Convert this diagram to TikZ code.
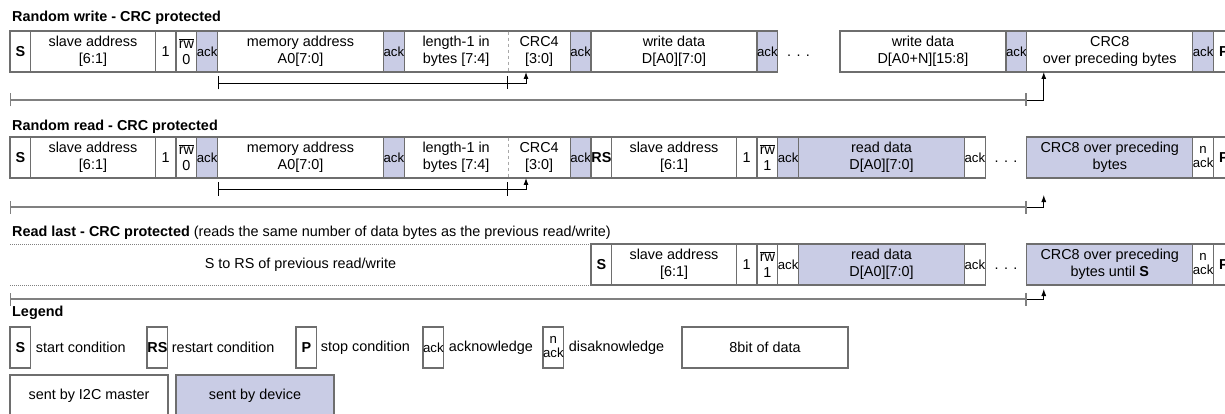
\documentclass[tikz,border=0pt]{standalone}
\usepackage{fontspec}
\setmainfont{Liberation Sans}
\usetikzlibrary{positioning, arrows.meta}

\definecolor{devfill}{RGB}{201,204,229}
\definecolor{cellline}{RGB}{110,110,110}
\newcommand\cellfont{\fontsize{14.4pt}{16.6pt}\selectfont}
\newcommand\ackfont{\fontsize{13.2pt}{14pt}\selectfont}

\begin{document}
\begin{tikzpicture}[x = 1pt, y = -1pt,
    cell/.style = {draw = cellline, line width = 1.2pt, minimum width = #1*20.75pt,
                   minimum height = 41pt, inner sep = 0pt, outer sep = 0pt,
                   align = center, font = \cellfont},
    cell/.default = 1,
    devcell/.style = {cell = #1, fill = devfill},
    devcell/.default = 1,
    gapcell/.style = {cell = #1, draw = none},
    gapcell/.default = 1,
    heading/.style = {anchor = west, inner sep = 0pt, font = \cellfont},
    note/.style = {inner sep = 0pt, font = \cellfont},
    spanline/.style = {line width = .9pt, {Bar[width=13pt]}-{Bar[width=13pt]}},
    longspan/.style = {spanline, draw = gray, line width = 1.4pt},
    crcarrow/.style = {line width = .9pt, -{Latex[length=7pt, width=5pt]}}
  ]
  \useasboundingbox (0,0) rectangle (1225,414);

  % random write
  \node[heading, font = \cellfont\bfseries] (t1) at (12,18) {Random write - CRC protected};
  % random read
  \node[heading, font = \cellfont\bfseries] (t2) at (12,127) {Random read - CRC protected};

  % both start the same way
  \foreach \r/\ty in {1/31, 2/137} {
    \node[cell, anchor = north west, font = \cellfont\bfseries] (s\r) at (10,\ty) {S};
    \node[cell = 6, right = 0pt of s\r] (sa\r) {slave address\\{}[6:1]};
    \node[cell, right = 0pt of sa\r] (one\r) {1};
    \node[cell, right = 0pt of one\r] (rw\r) {$\overline{\mbox{rw}}$\\0};
    \node[devcell, font = \ackfont, right = 0pt of rw\r] (ackA\r) {ack};
    \node[cell = 8, right = 0pt of ackA\r] (ma\r) {memory address\\A0[7:0]};
    \node[devcell, font = \ackfont, right = 0pt of ma\r] (ackB\r) {ack};
    \node[cell = 5, right = 0pt of ackB\r] (len\r) {length-1 in\\bytes [7:4]};
    \node[cell = 3, right = 0pt of len\r] (crcf\r) {CRC4\\{}[3:0]};
    \node[devcell, font = \ackfont, right = 0pt of crcf\r] (ackC\r) {ack};
    \draw[white, line width = 1.4pt] ([yshift = -.7pt]len\r.north east) -- ([yshift = .7pt]len\r.south east);
    \draw[cellline!60, dashed, line width = .8pt] ([yshift = -.7pt]len\r.north east) -- ([yshift = .7pt]len\r.south east);
    % crc4 covers memory address and length
    \draw[spanline] ([yshift = -11pt]ma\r.south west) -- ([yshift = -11pt]len\r.south east);
    \draw[crcarrow] ([yshift = -11pt]len\r.south east) -| ([xshift = 18pt]crcf\r.south west);
  }

  \node[cell = 8, right = 0pt of ackC1] (wd1) {write data\\D[A0][7:0]};
  \node[devcell, font = \ackfont, right = 0pt of wd1] (ackD1) {ack};
  \node[gapcell = 2, right = 0pt of ackD1] (dots1) {\vphantom{A}. . .};
  \node[cell = 8, right = 20.75pt of dots1] (wdn1) {write data\\D[A0+N][15:8]};
  \node[devcell, font = \ackfont, right = 0pt of wdn1] (ackE1) {ack};
  \node[cell = 8, right = 0pt of ackE1] (crce1) {CRC8\\over preceding bytes};
  \node[devcell, font = \ackfont, right = 0pt of crce1] (ackF1) {ack};
  \node[cell, font = \cellfont\bfseries, right = 0pt of ackF1] (p1) {P};

  \draw[longspan] ([yshift = -28pt]s1.south west) -- ([yshift = -28pt]crce1.south west);
  \draw[crcarrow] ([yshift = -28pt]crce1.south west) -| ([xshift = 17pt]crce1.south west);

  \node[cell, font = \cellfont\bfseries, right = 0pt of ackC2] (rs2) {RS};
  \node[cell = 6, right = 0pt of rs2] (sb2) {slave address\\{}[6:1]};
  \node[cell, right = 0pt of sb2] (two2) {1};
  \node[cell, right = 0pt of two2] (rd2) {$\overline{\mbox{rw}}$\\1};
  \node[devcell, font = \ackfont, right = 0pt of rd2] (ackD2) {ack};
  \node[devcell = 8, right = 0pt of ackD2] (rdat2) {read data\\D[A0][7:0]};
  \node[cell, font = \ackfont, right = 0pt of rdat2] (ackE2) {ack};
  \node[gapcell = 2, right = 0pt of ackE2] (dots2) {\vphantom{A}. . .};
  \node[devcell = 8, right = 0pt of dots2] (crce2) {CRC8 over preceding\\bytes};
  \node[cell, font = \ackfont, right = 0pt of crce2] (nack2) {n\\ack};
  \node[cell, font = \cellfont\bfseries, right = 0pt of nack2] (p2) {P};

  \draw[longspan] ([yshift = -29pt]s2.south west) -- ([yshift = -29pt]crce2.south west);
  \draw[crcarrow] ([yshift = -29pt]crce2.south west) -| ([shift = {(17pt,-17pt)}]crce2.south west);

  % read last
  \node[heading] (t3) at (12,233) {\textbf{Read last - CRC protected} (reads the same number of data bytes as the previous read/write)};
  \node[gapcell = 28, anchor = north west] (prev3) at (10,244) {S to RS of previous read/write};
  \draw[gray, line width = .8pt, dash pattern = on 1pt off 1pt] (prev3.north west) -- (prev3.north east);
  \draw[gray, line width = .8pt, dash pattern = on 1pt off 1pt] (prev3.south west) -- (prev3.south east);
  \node[cell, font = \cellfont\bfseries, right = 0pt of prev3] (s3) {S};
  \node[cell = 6, right = 0pt of s3] (sa3) {slave address\\{}[6:1]};
  \node[cell, right = 0pt of sa3] (one3) {1};
  \node[cell, right = 0pt of one3] (rw3) {$\overline{\mbox{rw}}$\\1};
  \node[cell, font = \ackfont, right = 0pt of rw3] (ackA3) {ack};
  \node[devcell = 8, right = 0pt of ackA3] (rdat3) {read data\\D[A0][7:0]};
  \node[cell, font = \ackfont, right = 0pt of rdat3] (ackB3) {ack};
  \node[gapcell = 2, right = 0pt of ackB3] (dots3) {\vphantom{A}. . .};
  \node[devcell = 8, right = 0pt of dots3] (crce3) {CRC8 over preceding\\bytes until \textbf{S}};
  \node[cell, font = \ackfont, right = 0pt of crce3] (nack3) {n\\ack};
  \node[cell, font = \cellfont\bfseries, right = 0pt of nack3] (p3) {P};

  \draw[longspan] ([yshift = -14pt]prev3.south west) -- ([yshift = -14pt]crce3.south west);
  \draw[crcarrow] ([yshift = -14pt]crce3.south west) -| ([shift = {(17pt,-4pt)}]crce3.south west);

  % legend
  \node[heading, font = \cellfont\bfseries] (lg) at (12,313) {Legend};
  \node[cell, font = \cellfont\bfseries, anchor = north west] (lgs) at (10,327) {S};
  \node[note, right = 5pt of lgs] (lgstxt) {start condition};
  \node[cell, font = \cellfont\bfseries, anchor = north west] (lgrs) at (147,327) {RS};
  \node[note, right = 4pt of lgrs] (lgrstxt) {restart condition};
  \node[cell, font = \cellfont\bfseries, anchor = north west] (lgp) at (296,327) {P};
  \node[note, right = 4pt of lgp] (lgptxt) {stop condition};
  \node[cell, font = \ackfont, anchor = north west] (lgack) at (423,327) {ack};
  \node[note, right = 5pt of lgack] (lgacktxt) {acknowledge};
  \node[cell, font = \ackfont, anchor = north west] (lgnack) at (543,327) {n\\ack};
  \node[note, right = 5pt of lgnack] (lgnacktxt) {disaknowledge};
  \node[cell = 8, anchor = north west] (lgdata) at (682,327) {8bit of data};
  \node[cell, minimum width = 158pt, anchor = north west] (lgmaster) at (10,375) {sent by I2C master};
  \node[devcell, minimum width = 158pt, anchor = north west] (lgdev) at (176,375) {sent by device};
\end{tikzpicture}
\end{document}
